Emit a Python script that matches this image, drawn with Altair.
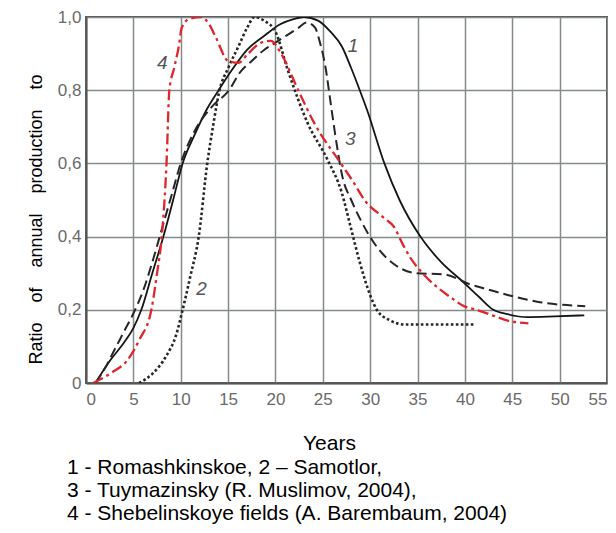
import altair as alt
import pandas as pd

# ---- data ----
c1_x = [1.0, 2.5, 4.0, 5.0, 5.84, 7.0, 8.17, 9.2, 10.2, 11.5, 12.8, 14.0, 15.4, 17.0, 18.9, 20.5, 22.0, 23.0,
        24.5, 25.8, 27.0, 28.0, 28.9, 29.7, 31.5, 33.1, 35.3, 37.5, 39.9, 41.5, 43.0, 44.5, 46.6, 49.5, 52.6]
c1_y = [0.0, 0.06, 0.11, 0.15, 0.2, 0.3, 0.4, 0.5, 0.6, 0.68, 0.75, 0.8, 0.855, 0.91, 0.95, 0.98, 0.995, 1.0,
        0.99, 0.96, 0.92, 0.86, 0.8, 0.744, 0.6, 0.5, 0.4, 0.33, 0.274, 0.235, 0.2, 0.188, 0.18, 0.182, 0.185]

c2_x = [5.6, 7.0, 8.5, 9.5, 10.2, 11.0, 11.9, 12.8, 13.4, 14.1, 15.0, 16.1, 17.0, 17.8, 18.8, 20.0, 21.3,
        23.4, 25.5, 27.0, 27.9, 28.9, 30.0, 30.7, 32.1, 33.6, 36.0, 38.5, 41.0]
c2_y = [0.0, 0.025, 0.075, 0.13, 0.2, 0.29, 0.4, 0.6, 0.7, 0.8, 0.86, 0.92, 0.97, 1.0, 0.99, 0.96, 0.855,
        0.71, 0.61, 0.52, 0.43, 0.33, 0.24, 0.2, 0.171, 0.16, 0.16, 0.16, 0.16]

c3_x = [1.0, 2.0, 3.0, 4.0, 5.0, 6.0, 7.0, 8.0, 9.0, 10.0, 11.5, 13.3, 15.1, 16.3, 17.5, 18.8, 20.0, 21.2, 22.4,
        23.3, 24.2, 24.7, 25.3, 25.8, 26.3, 27.1, 28.0, 29.0, 30.7, 32.5, 34.9, 37.8, 40.5, 42.5, 44.6, 48.1, 52.7]
c3_y = [0.0, 0.04, 0.09, 0.14, 0.19, 0.25, 0.33, 0.42, 0.51, 0.6, 0.69, 0.755, 0.8, 0.85, 0.88, 0.91, 0.93,
        0.95, 0.97, 0.985, 0.97, 0.93, 0.86, 0.77, 0.68, 0.56, 0.5, 0.445, 0.372, 0.325, 0.3, 0.297, 0.27, 0.255,
        0.24, 0.22, 0.21]

c4_x = [0.75, 2.8, 4.3, 5.67, 6.9, 7.5, 8.0, 8.5, 8.8, 9.3, 9.8, 10.1, 10.9, 12.2, 13.0, 13.7, 15.0, 16.1,
        17.1, 18.5, 19.5, 20.6, 22.4, 24.1, 26.9, 28.2, 29.4, 31.5, 32.5, 33.5, 34.2, 35.7, 36.7, 38.5,
        39.9, 41.2, 42.9, 44.6, 46.7]
c4_y = [0.0, 0.03, 0.06, 0.12, 0.2, 0.3, 0.4, 0.6, 0.8, 0.86, 0.92, 0.97, 0.995, 1.0, 0.98, 0.945, 0.88, 0.875,
        0.9, 0.93, 0.935, 0.9, 0.8, 0.71, 0.6, 0.55, 0.5, 0.45, 0.427, 0.376, 0.344, 0.295, 0.27, 0.234,
        0.21, 0.2, 0.185, 0.17, 0.163]

label_text = ["1", "2", "3", "4"]
label_x = [28.2, 12.2, 27.9, 8.05]
label_y = [0.92, 0.257, 0.668, 0.875]

x_ticks = [0, 5, 10, 15, 20, 25, 30, 35, 40, 45, 50, 55]
y_ticks = [0, 0.2, 0.4, 0.6, 0.8, 1.0]

x_title = "Years"
y_title = "\u00a0\u00a0\u00a0\u00a0".join(["Ratio", "of", "annual", "production", "to"])
notes = ["1 - Romashkinskoe, 2 \u2013 Samotlor,",
         "3 - Tuymazinsky (R. Muslimov, 2004),",
         "4 - Shebelinskoye fields (A. Barembaum, 2004)"]

FONT = "Liberation Sans"

xscale = alt.Scale(domain=[0, 55], nice=False, zero=False)
yscale = alt.Scale(domain=[0, 1.0], nice=False)

xaxis = alt.Axis(values=x_ticks, title=x_title, grid=True, labelFontSize=17, labelColor="#6a6a6a",
                 labelPadding=8, titleFontSize=21, titleFontWeight="normal", titleColor="black",
                 titleX=243, titleY=66, titleBaseline="alphabetic", titleAlign="center", labelFont=FONT,
                 titleFont=FONT, ticks=False, domain=True, domainColor="#555555", domainWidth=2,
                 gridColor="#858b8b", gridWidth=1.5)
yaxis = alt.Axis(values=y_ticks, title=y_title, grid=True, labelFontSize=17, labelColor="#6a6a6a",
                 labelPadding=5, labelExpr="datum.value == 0 ? '0' : replace(format(datum.value, '.1f'), '.', ',')",
                 titleFontSize=18, titleFontWeight="normal", titleColor="black", titleAngle=270,
                 titleX=-50, titleY=202, titleAlign="center", titleBaseline="middle", labelFont=FONT,
                 titleFont=FONT, ticks=False, domain=True, domainColor="#555555", domainWidth=2,
                 gridColor="#858b8b", gridWidth=1.5)


def curve(xs, ys, color, width, dash):
    df = pd.DataFrame({"x": xs, "y": ys})
    kw = dict(color=color, strokeWidth=width, interpolate="monotone", clip=True)
    if dash:
        kw["strokeDash"] = dash
    return alt.Chart(df).mark_line(**kw).encode(
        x=alt.X("x:Q", scale=xscale, axis=xaxis),
        y=alt.Y("y:Q", scale=yscale, axis=yaxis),
        order="x:Q",
    )


l1 = curve(c1_x, c1_y, "#151515", 1.8, None)
l2 = curve(c2_x, c2_y, "#262626", 2.6, [2.6, 2.4])
l3 = curve(c3_x, c3_y, "#262626", 2.0, [10, 5])
l4 = curve(c4_x, c4_y, "#e0262d", 2.3, [11, 4, 3, 4])

labels = alt.Chart(pd.DataFrame({"t": label_text, "x": label_x, "y": label_y})).mark_text(
    fontSize=19, fontStyle="italic", color="#555555", font=FONT, align="center", baseline="middle"
).encode(x=alt.X("x:Q", scale=xscale, axis=xaxis), y=alt.Y("y:Q", scale=yscale, axis=yaxis), text="t:N")

note = alt.Chart(pd.DataFrame({"t": ["\n".join(notes)]})).mark_text(
    fontSize=21, font=FONT, color="black", align="left", baseline="alphabetic",
    lineBreak="\n", lineHeight=23
).encode(x=alt.value(-19), y=alt.value(457), text="t:N")

chart = alt.layer(l1, l2, l3, l4, labels, note).properties(
    width=521, height=366,
    padding={"left": 78, "top": 9, "right": 1, "bottom": 142},
    autosize=alt.AutoSizeParams(type="none"),
    view=alt.ViewBackground(stroke="#555555", strokeWidth=2),
).configure(background="white")

chart.save("out.html", embed_options={"renderer": "svg", "actions": False})
